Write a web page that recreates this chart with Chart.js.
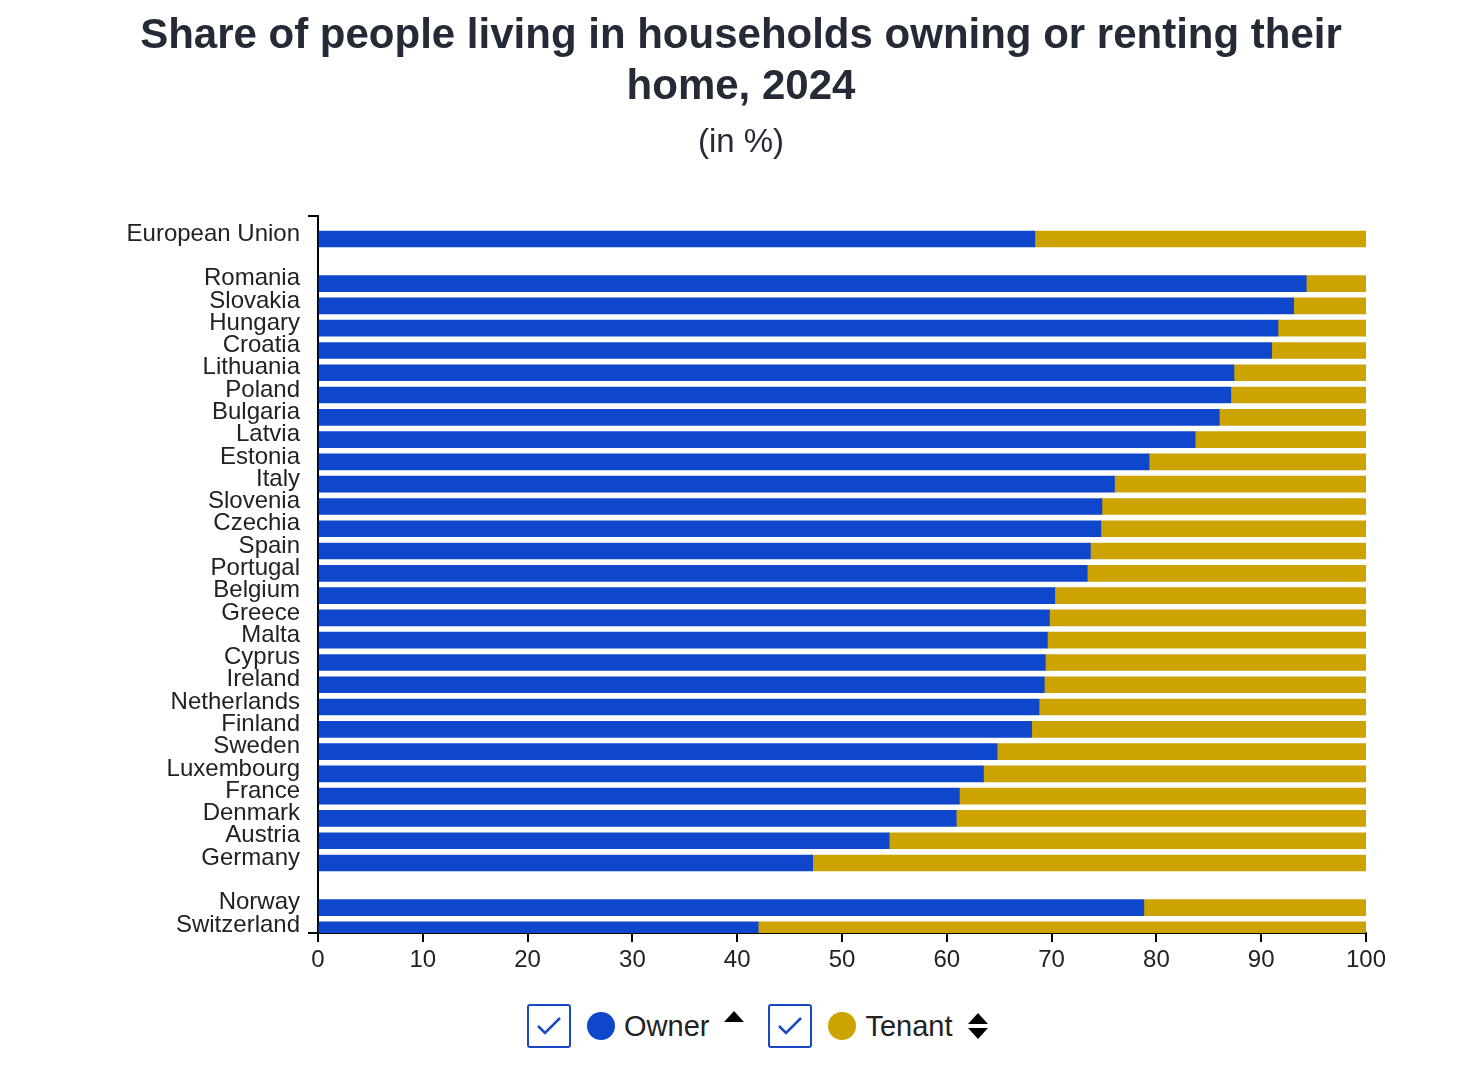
<!DOCTYPE html>
<html>
<head>
<meta charset="utf-8">
<title>Owners and tenants, 2024</title>
<script src="https://cdn.jsdelivr.net/npm/chart.js@4"></script>
<style>
  html, body { margin: 0; padding: 0; background: #fff; }
  body { width: 1471px; height: 1072px; position: relative; font-family: "Liberation Sans", Arial, sans-serif; }
  #wrap { position: absolute; left: 0; top: 0; width: 1471px; height: 990px; }
  #legend { position: absolute; left: 527px; top: 1004px; display: flex; align-items: center; color: #222; font-size: 29px; }
  .box { width: 40px; height: 40px; border: 2px solid #1a48c4; border-radius: 3px; display: flex; align-items: center; justify-content: center; }
  .dot { width: 28px; height: 28px; border-radius: 50%; margin-left: 16px; margin-right: 9px; }
  .arrow { display: flex; margin-left: 15px; margin-right: 24px; }
</style>
</head>
<body>
<div id="wrap"><canvas id="chart"></canvas></div>
<div id="legend"></div>

<script>
// data (empty strings are the gaps between groups)
const categories = ['European Union', '', 'Romania', 'Slovakia', 'Hungary', 'Croatia', 'Lithuania',
  'Poland', 'Bulgaria', 'Latvia', 'Estonia', 'Italy', 'Slovenia', 'Czechia', 'Spain', 'Portugal',
  'Belgium', 'Greece', 'Malta', 'Cyprus', 'Ireland', 'Netherlands', 'Finland', 'Sweden',
  'Luxembourg', 'France', 'Denmark', 'Austria', 'Germany', '', 'Norway', 'Switzerland'];
const owner = [68.4, null, 94.3, 93.1, 91.6, 91.0, 87.4, 87.1, 86.0, 83.7, 79.3, 76.0, 74.8, 74.7,
  73.7, 73.4, 70.3, 69.8, 69.6, 69.4, 69.3, 68.8, 68.1, 64.8, 63.5, 61.2, 60.9, 54.5, 47.2, null, 78.8, 42.0];
const tenant = [31.6, null, 5.7, 6.9, 8.4, 9.0, 12.6, 12.9, 14.0, 16.3, 20.7, 24.0, 25.2, 25.3,
  26.3, 26.6, 29.7, 30.2, 30.4, 30.6, 30.7, 31.2, 31.9, 35.2, 36.5, 38.8, 39.1, 45.5, 52.8, null, 21.2, 58.0];
const xTicks = [0, 10, 20, 30, 40, 50, 60, 70, 80, 90, 100];

const seriesNames = ['Owner', 'Tenant'];
const seriesColors = ['#0f47cc', '#cca300'];

// index axis runs a bit past the first and last row, like the original
const yMin = -1.03;
const yMax = 31.14;

function points(values) {
  return values.map((v, i) => ({ x: v, y: i })).filter(p => p.x !== null);
}

const textColor = '#222';
const fontFamily = '"Liberation Sans", Arial, sans-serif';

const ctx = document.getElementById('chart').getContext('2d');
const chart = new Chart(ctx, {
  type: 'bar',
  data: {
    datasets: [
      { label: seriesNames[0], data: points(owner), backgroundColor: seriesColors[0] },
      { label: seriesNames[1], data: points(tenant), backgroundColor: seriesColors[1] }
    ]
  },
  options: {
    indexAxis: 'y',
    responsive: true,
    maintainAspectRatio: false,
    animation: false,
    barThickness: 16,
    layout: { padding: { left: 116, right: 105, top: 0, bottom: 0 } },
    plugins: {
      legend: { display: false },
      tooltip: { enabled: false },
      title: {
        display: true,
        text: ['Share of people living in households owning or renting their', 'home, 2024'],
        color: '#242a36',
        font: { family: fontFamily, size: 42, weight: 'bold', lineHeight: 1.22 },
        padding: { top: 11, bottom: 10 }
      },
      subtitle: {
        display: true,
        text: '(in %)',
        color: '#242a36',
        font: { family: fontFamily, size: 33, lineHeight: 1.2 },
        padding: { top: 0, bottom: 53 }
      }
    },
    scales: {
      x: {
        type: 'linear',
        stacked: true,
        min: 0,
        max: 100,
        afterBuildTicks: (scale) => { scale.ticks = xTicks.map(v => ({ value: v })); },
        afterFit: (scale) => { scale.height = 57; },
        grid: { drawOnChartArea: false, color: '#000', lineWidth: 2, tickLength: 9 },
        border: { color: '#000', width: 2 },
        ticks: { color: textColor, padding: 4, font: { family: fontFamily, size: 24 } }
      },
      y: {
        type: 'linear',
        stacked: true,
        reverse: true,
        offset: false,
        min: yMin,
        max: yMax,
        afterBuildTicks: (scale) => {
          scale.ticks = [yMin].concat(categories.map((c, i) => i), [yMax]).map(v => ({ value: v }));
        },
        afterFit: (scale) => { scale.width = 202; },
        grid: {
          offset: false,
          drawOnChartArea: false,
          lineWidth: 2,
          tickLength: 10,
          color: (c) => (c.tick && (c.tick.value === yMin || c.tick.value === yMax)) ? '#000' : 'rgba(0,0,0,0)'
        },
        border: { color: '#000', width: 2 },
        ticks: {
          autoSkip: false,
          color: textColor,
          padding: 8,
          labelOffset: -5,
          font: { family: fontFamily, size: 24 },
          callback: (v) => Number.isInteger(v) ? (categories[v] || '') : ''
        }
      }
    }
  }
});

// legend with the checkbox and sort markers of the original page
const legend = document.getElementById('legend');
const check = '<svg width="28" height="22" viewBox="0 0 28 22"><polyline points="3,11 10,18 25,3" fill="none" stroke="#1a48c4" stroke-width="2.5"/></svg>';
const upArrow = '<svg width="20" height="12" viewBox="0 0 20 12"><polygon points="0,12 10,1 20,12" fill="#000"/></svg>';
const bothArrows = '<svg width="20" height="28" viewBox="0 0 20 28"><polygon points="0,12 10,1 20,12" fill="#000"/><polygon points="0,16 10,27 20,16" fill="#000"/></svg>';
seriesNames.forEach((name, i) => {
  const arrow = i === 0 ? upArrow : bothArrows;
  legend.insertAdjacentHTML('beforeend',
    '<span class="box">' + check + '</span>' +
    '<span class="dot" style="background:' + seriesColors[i] + '"></span>' +
    '<span>' + name + '</span>' +
    '<span class="arrow" style="' + (i === 0 ? 'align-self:flex-start;margin-top:6px' : '') + '">' + arrow + '</span>');
});
</script>
</body>
</html>
